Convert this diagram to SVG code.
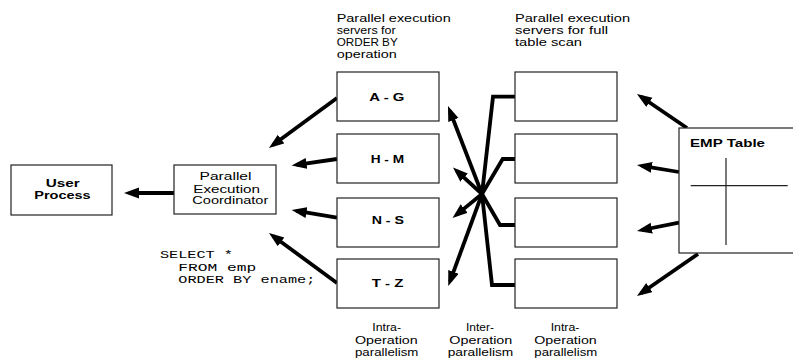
<svg xmlns="http://www.w3.org/2000/svg" width="793" height="360" viewBox="0 0 793 360">
<defs>
<marker id="ah" markerUnits="userSpaceOnUse" markerWidth="17" markerHeight="12" refX="10" refY="5.5" orient="auto">
<path d="M0,0 L15,5.5 L0,11 Z" fill="#000"/>
</marker>
<style>
.box{fill:#fff;stroke:#222;stroke-width:1.2}
.t{font-family:"Liberation Sans",Arial,sans-serif;font-size:11px;fill:#000}
.b{font-weight:bold;font-size:11.5px}
.m{font-family:"Liberation Mono","Courier New",monospace;font-size:10.5px;fill:#000}
.c{fill:none;stroke:#000;stroke-width:3.8}
.a{marker-end:url(#ah)}
.x{fill:none;stroke:#222;stroke-width:1.2}
</style>
</defs>
<rect width="793" height="360" fill="#fff"/>

<g id="connectors">
<line class="c a" x1="174" y1="193" x2="129" y2="193"/>
<line class="c a" x1="337" y1="98" x2="273" y2="145"/>
<line class="c a" x1="337" y1="159" x2="296.6" y2="164.9"/>
<line class="c a" x1="337" y1="217.7" x2="296.6" y2="210.8"/>
<line class="c a" x1="337" y1="283" x2="273" y2="236"/>
<line class="c a" x1="482" y1="194" x2="449.8" y2="110.7"/>
<line class="c a" x1="482" y1="194" x2="456.7" y2="170.9"/>
<line class="c a" x1="482" y1="194" x2="456.4" y2="214.9"/>
<line class="c a" x1="482" y1="194" x2="450" y2="281.3"/>
<polyline class="c" points="515,96.7 493,96.7 482,194"/>
<polyline class="c" points="515,159 502.7,159 482,194"/>
<polyline class="c" points="515,225 500,225 482,194"/>
<polyline class="c" points="515,285 492,285 482,194"/>
<line class="c a" x1="687" y1="128" x2="641.1" y2="96.8"/>
<line class="c a" x1="679" y1="172" x2="641.9" y2="165.8"/>
<line class="c a" x1="679" y1="222.7" x2="641.9" y2="230"/>
<line class="c a" x1="698" y1="254" x2="641.1" y2="293.2"/>
</g>

<g id="user-process">
<rect class="box" x="11" y="165" width="101" height="50"/>
<text class="t b" x="45.7" y="186.7" textLength="34" lengthAdjust="spacingAndGlyphs">User</text>
<text class="t b" x="34.3" y="199.3" textLength="56.4" lengthAdjust="spacingAndGlyphs">Process</text>
</g>

<g id="coordinator">
<rect class="box" x="174" y="165" width="102" height="49"/>
<text class="t" x="199.5" y="180" textLength="52" lengthAdjust="spacingAndGlyphs">Parallel</text>
<text class="t" x="193.3" y="192.7" textLength="66.7" lengthAdjust="spacingAndGlyphs">Execution</text>
<text class="t" x="192.3" y="204.3" textLength="76" lengthAdjust="spacingAndGlyphs">Coordinator</text>
</g>

<g id="sql">
<text class="m" x="160" y="258" textLength="73" lengthAdjust="spacingAndGlyphs">SELECT *</text>
<text class="m" x="178.3" y="270.5" textLength="78" lengthAdjust="spacingAndGlyphs">FROM emp</text>
<text class="m" x="178.3" y="282.5" textLength="137" lengthAdjust="spacingAndGlyphs">ORDER BY ename;</text>
</g>

<g id="label-orderby">
<text class="t" x="336.7" y="22.3" textLength="114" lengthAdjust="spacingAndGlyphs">Parallel execution</text>
<text class="t" x="336.7" y="33.7" textLength="59" lengthAdjust="spacingAndGlyphs">servers for</text>
<text class="t" x="336.7" y="45.7" textLength="61" lengthAdjust="spacingAndGlyphs">ORDER BY</text>
<text class="t" x="336.7" y="57.7" textLength="60" lengthAdjust="spacingAndGlyphs">operation</text>
</g>

<g id="label-scan">
<text class="t" x="515" y="22.3" textLength="115" lengthAdjust="spacingAndGlyphs">Parallel execution</text>
<text class="t" x="515" y="33.7" textLength="93" lengthAdjust="spacingAndGlyphs">servers for full</text>
<text class="t" x="515" y="45.7" textLength="67" lengthAdjust="spacingAndGlyphs">table scan</text>
</g>

<g id="server-ag">
<rect class="box" x="337" y="72" width="102" height="49"/>
<text class="t b" x="369.3" y="100.5" textLength="35" lengthAdjust="spacingAndGlyphs">A - G</text>
</g>
<g id="server-hm">
<rect class="box" x="337" y="134" width="102" height="49"/>
<text class="t b" x="370.7" y="163.3" textLength="33.3" lengthAdjust="spacingAndGlyphs">H - M</text>
</g>
<g id="server-ns">
<rect class="box" x="337" y="198" width="102" height="49"/>
<text class="t b" x="371.7" y="224" textLength="32.3" lengthAdjust="spacingAndGlyphs">N - S</text>
</g>
<g id="server-tz">
<rect class="box" x="337" y="259" width="102" height="49"/>
<text class="t b" x="371.7" y="286.7" textLength="31.7" lengthAdjust="spacingAndGlyphs">T - Z</text>
</g>

<g id="scan-1"><rect class="box" x="515" y="72" width="102" height="49"/></g>
<g id="scan-2"><rect class="box" x="515" y="134" width="102" height="49"/></g>
<g id="scan-3"><rect class="box" x="515" y="198" width="102" height="49"/></g>
<g id="scan-4"><rect class="box" x="515" y="259" width="102" height="49"/></g>

<g id="emp-table">
<rect class="box" x="679" y="128" width="120" height="125"/>
<text class="t b" x="690" y="146.7" textLength="75" lengthAdjust="spacingAndGlyphs">EMP Table</text>
<line class="x" x1="726" y1="158" x2="726" y2="245"/>
<line class="x" x1="690.7" y1="185.7" x2="787.7" y2="185.7"/>
</g>

<g id="label-intra-1">
<text class="t" x="372.3" y="330.7" textLength="28.7" lengthAdjust="spacingAndGlyphs">Intra-</text>
<text class="t" x="355" y="344.3" textLength="62.7" lengthAdjust="spacingAndGlyphs">Operation</text>
<text class="t" x="355" y="356" textLength="63.3" lengthAdjust="spacingAndGlyphs">parallelism</text>
</g>
<g id="label-inter">
<text class="t" x="466" y="330.7" textLength="28" lengthAdjust="spacingAndGlyphs">Inter-</text>
<text class="t" x="449.3" y="344.3" textLength="63" lengthAdjust="spacingAndGlyphs">Operation</text>
<text class="t" x="447.7" y="356" textLength="65.6" lengthAdjust="spacingAndGlyphs">parallelism</text>
</g>
<g id="label-intra-2">
<text class="t" x="550.7" y="330.7" textLength="28.7" lengthAdjust="spacingAndGlyphs">Intra-</text>
<text class="t" x="534.3" y="344.3" textLength="62.4" lengthAdjust="spacingAndGlyphs">Operation</text>
<text class="t" x="534.3" y="356" textLength="63" lengthAdjust="spacingAndGlyphs">parallelism</text>
</g>
</svg>
